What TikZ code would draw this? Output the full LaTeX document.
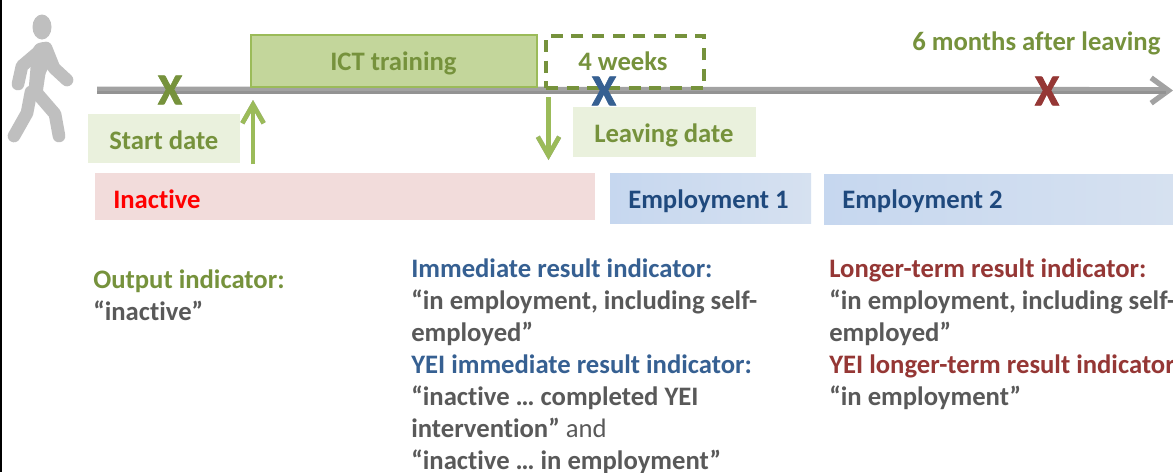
\documentclass[tikz,border=0pt]{standalone}
\usepackage{fontspec}
\setmainfont[RawFeature={-liga}]{Carlito}
\newfontfamily\heavyfont[FakeBold=1.6]{Carlito}
\usetikzlibrary{arrows.meta}
\definecolor{grn}{HTML}{76923C}
\definecolor{lgrn}{HTML}{9BBB59}
\definecolor{pgrn}{HTML}{EAF1DD}
\definecolor{fgrn}{HTML}{C3D69B}
\definecolor{blu}{HTML}{366092}
\definecolor{dblu}{HTML}{1F497D}
\definecolor{rd}{HTML}{953735}
\definecolor{gry}{HTML}{595959}
\definecolor{pnk}{HTML}{F2DCDB}
\definecolor{man}{HTML}{BFBFBF}
\definecolor{bluA}{HTML}{C6D7EF}
\definecolor{bluB}{HTML}{BFD0EA}
\definecolor{bluC}{HTML}{D6E1F0}
\newcommand{\bodyfont}{\fontsize{20pt}{24pt}\selectfont\bfseries}
\tikzset{
  x=0.75pt,y=-0.75pt,
  box/.style={anchor=north west,inner sep=0pt,outer sep=0pt},
  lab/.style={anchor=base west,inner sep=0pt,font=\bodyfont},
  para/.style={anchor=north west,inner sep=0pt,align=left,font=\bodyfont,text=gry},
  cross/.style={inner sep=0pt,font=\fontsize{33pt}{33pt}\heavyfont\bfseries},
  limb/.style={draw=man,line width=9.5pt,line cap=round,line join=round},
  vert/.style={line width=3.4pt,-{Straight Barb[length=14pt,width=16pt,line width=3.4pt]}},
  empbox/.style={box,shading=axis,shading angle=90,left color=bluA,middle color=bluB,right color=bluC}
}
\begin{document}
\begin{tikzpicture}
\useasboundingbox (0,0) rectangle (1173,472);
\fill[white] (0,0) rectangle (1173,472);
\fill[black] (0,0) rectangle (2,472);
% walker
\fill[man] (42,27) ellipse [x radius=9.5,y radius=12.5];
\fill[man,rounded corners=4pt] (34,44) -- (48,41) -- (56,62) -- (46,70) -- (42,97) -- (28,97) -- (31,62) -- cycle;
\draw[limb] (42,49) -- (22,66) -- (18,84);
\draw[limb] (46,48) -- (54,68) -- (67,80);
\draw[limb] (31,92) -- (27,113) -- (14,136);
\draw[limb] (36,92) -- (55,114) -- (59,136);
% axis
\coordinate (axisstart) at (97,90);
\coordinate (axisend) at (1173,90.5);
\draw[draw=man!85!black,line width=5.2pt,-{Straight Barb[length=13pt,width=19pt,line width=4pt]}] (axisstart) -- (axisend);
\draw[draw=gray!85,line width=1.6pt] (97,92.5) -- (1166,92.5);
% boxes
\node[box,draw=lgrn,line width=1.8pt,fill=fgrn,minimum width=286*0.75pt,minimum height=52*0.75pt] (ict) at (251,35) {};
\node[lab,text=grn] at (330,70) {ICT training};
\node[box,draw=grn,line width=3pt,dash pattern=on 9pt off 6.5pt,minimum width=158*0.75pt,minimum height=52*0.75pt] (weeks) at (546,36) {};
\node[lab,text=grn] at (578,70) {4 weeks};
\node[lab,text=grn] at (912,50) {6 months after leaving};
\node[box,fill=pgrn,minimum width=152*0.75pt,minimum height=49*0.75pt] (start) at (88,114) {};
\node[lab,text=grn] at (109,149) {Start date};
\node[box,fill=pgrn,minimum width=183*0.75pt,minimum height=50*0.75pt] (leave) at (573,107) {};
\node[lab,text=grn] at (594,142) {Leaving date};
\node[box,fill=pnk,minimum width=500*0.75pt,minimum height=47*0.75pt] (inact) at (95,173) {};
\node[lab,text=red] at (113,208.5) {Inactive};
\node[empbox,minimum width=201*0.75pt,minimum height=50*0.75pt] (e1) at (610,173) {};
\node[lab,text=dblu] at (628,208.5) {Employment 1};
\node[empbox,minimum width=349*0.75pt,minimum height=50*0.75pt] (e2) at (824,174) {};
\node[lab,text=dblu] at (842,208.5) {Employment 2};
% arrows
\coordinate (upfrom) at (253,164);
\coordinate (upto) at (253,100);
\coordinate (downfrom) at (548.5,97);
\coordinate (downto) at (548.5,160);
\draw[vert,draw=gray!70,yshift=-1.5] (upfrom) -- (upto);
\draw[vert,draw=lgrn] (upfrom) -- (upto);
\draw[vert,draw=gray!70,yshift=-1.5] (downfrom) -- (downto);
\draw[vert,draw=lgrn] (downfrom) -- (downto);
% crosses
\node[cross,text=grn] (x1) at (170,90) {X};
\node[cross,text=blu] (x2) at (604,91) {X};
\node[cross,text=rd] (x3) at (1047,91) {X};
% paragraphs
\node[para] (p1) at (93,270) {\textcolor{grn}{Output indicator:}\\“inactive”};
\node[para] (p2) at (411,259) {\textcolor{blu}{Immediate result indicator:}\\“in employment, including self-\\employed”\\\textcolor{blu}{YEI immediate result indicator:}\\“inactive … completed YEI\\intervention” {\mdseries and}\\“inactive … in employment”};
\node[para] (p3) at (829,259) {\textcolor{rd}{Longer-term result indicator:}\\“in employment, including self-\\employed”\\\textcolor{rd}{YEI longer-term result indicator:}\\“in employment”};
\end{tikzpicture}
\end{document}
